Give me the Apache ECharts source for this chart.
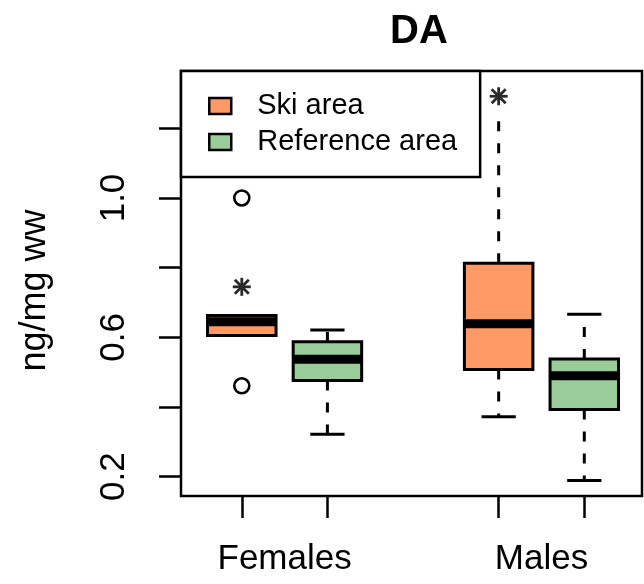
<!DOCTYPE html>
<html>
<head>
<meta charset="utf-8">
<title>DA</title>
<script src="https://cdn.jsdelivr.net/npm/echarts@6/dist/echarts.min.js"></script>
<style>
  html, body { margin: 0; padding: 0; background: #fff; }
  #chart { width: 644px; height: 584px; }
</style>
</head>
<body>
<div id="chart"></div>
<script>
// groups on the x axis
const groups = ["Females", "Males"];
// [lower whisker, Q1, median, Q3, upper whisker] for each group
const skiArea = [
  [0.605, 0.605, 0.645, 0.663, 0.663],
  [0.372, 0.508, 0.639, 0.813, 1.24]
];
const refArea = [
  [0.322, 0.476, 0.537, 0.587, 0.621],
  [0.189, 0.393, 0.49, 0.538, 0.666]
];
// [group index, value]
const skiOutliers = [[0, 1.0], [0, 0.461]];
const skiExtremes = [[0, 0.745], [1, 1.292]];
const yTicks = [0.2, 0.4, 0.6, 0.8, 1.0, 1.2];
const yLabels = [0.2, 0.6, 1.0];

const FONT = "Liberation Sans";
const skiColor = "#FF9966";
const refColor = "#99CC99";

// ski box sits at 1 (+3 per group), reference box right after it
const xOf = (g, k) => g * 3 + 1 + k;

let renderBox = (params, api) => {
  const x = api.value(0);
  const lo = api.value(1), q1 = api.value(2), med = api.value(3), q3 = api.value(4), hi = api.value(5);
  const half = 0.4, cap = 0.2;
  const p = (dx, v) => api.coord([x + dx, v]);
  const line = (a, b, style) => ({
    type: "line",
    shape: { x1: a[0], y1: a[1], x2: b[0], y2: b[1] },
    style: style
  });
  const dashed = { stroke: "#000", lineWidth: 3, lineDash: [10, 12] };
  const solid = { stroke: "#000", lineWidth: 3 };
  const tl = p(-half, q3);
  const br = p(half, q1);
  return {
    type: "group",
    children: [
      line(p(0, q1), p(0, lo), dashed),
      line(p(0, q3), p(0, hi), dashed),
      line(p(-cap, lo), p(cap, lo), solid),
      line(p(-cap, hi), p(cap, hi), solid),
      {
        type: "rect",
        shape: { x: tl[0], y: tl[1], width: br[0] - tl[0], height: br[1] - tl[1] },
        style: { fill: api.visual("color"), stroke: "#000", lineWidth: 3 }
      },
      line(p(-half, med), p(half, med), { stroke: "#000", lineWidth: 9 })
    ]
  };
};

// pch 8 style asterisk on a white patch
let renderStar = (params, api) => {
  const c = api.coord([api.value(0), api.value(1)]);
  const r = 9, d = 7;
  const st = { stroke: "#2a2a2a", lineWidth: 2.8 };
  const seg = (dx, dy) => ({
    type: "line",
    shape: { x1: c[0] - dx, y1: c[1] - dy, x2: c[0] + dx, y2: c[1] + dy },
    style: st
  });
  return {
    type: "group",
    children: [
      { type: "rect", shape: { x: c[0] - 21, y: c[1] - 22, width: 42, height: 44 }, style: { fill: "#fff" } },
      seg(r, 0), seg(0, r), seg(d, d), seg(d, -d)
    ]
  };
};

let chart = echarts.init(document.getElementById("chart"));
let option = {
  animation: false,
  title: {
    text: "DA",
    left: 414,
    top: 7,
    textAlign: "center",
    textStyle: { fontFamily: FONT, fontWeight: "bold", fontSize: 40, color: "#000" }
  },
  legend: {
    z: 10,
    orient: "vertical",
    left: 181,
    top: 71,
    data: ["Ski area", "Reference area"],
    backgroundColor: "#fff",
    borderColor: "#000",
    borderWidth: 2.5,
    padding: [20, 23, 20, 27],
    itemGap: 6,
    itemWidth: 22,
    itemHeight: 16,
    icon: "rect",
    itemStyle: { borderColor: "#000", borderWidth: 2.5 },
    textStyle: { fontFamily: FONT, fontSize: 29, color: "#000", lineHeight: 30, padding: [0, 0, 0, 21] }
  },
  grid: {
    left: 181,
    right: 2,
    top: 71,
    bottom: 88,
    show: true,
    borderColor: "#000",
    borderWidth: 2.5
  },
  xAxis: {
    type: "value",
    min: 0.29,
    max: 5.674,
    axisLine: { show: false },
    splitLine: { show: false },
    axisTick: {
      show: true,
      customValues: [xOf(0, 0), xOf(0, 1), xOf(1, 0), xOf(1, 1)],
      length: 22,
      lineStyle: { color: "#000", width: 2.5 }
    },
    axisLabel: {
      customValues: [xOf(0, 0.5), xOf(1, 0.5)],
      formatter: (v) => groups[Math.round((v - 1.5) / 3)],
      margin: 46,
      fontFamily: FONT,
      fontSize: 35,
      color: "#000"
    }
  },
  yAxis: {
    type: "value",
    min: 0.1446,
    max: 1.3645,
    name: "ng/mg ww",
    nameLocation: "middle",
    nameGap: 128,
    nameTextStyle: { fontFamily: FONT, fontSize: 36, color: "#000", padding: [0, 14, 0, 0] },
    axisLine: { show: false },
    splitLine: { show: false },
    axisTick: {
      show: true,
      customValues: yTicks,
      length: 22,
      lineStyle: { color: "#000", width: 2.5 }
    },
    axisLabel: {
      customValues: yLabels,
      formatter: (v) => v.toFixed(1),
      rotate: 90,
      margin: 49,
      fontFamily: FONT,
      fontSize: 35,
      color: "#000"
    }
  },
  series: [
    {
      name: "Ski area",
      type: "custom",
      renderItem: renderBox,
      itemStyle: { color: skiColor },
      encode: { x: 0, y: [1, 2, 3, 4, 5] },
      data: skiArea.map((s, g) => [xOf(g, 0)].concat(s))
    },
    {
      name: "Reference area",
      type: "custom",
      renderItem: renderBox,
      itemStyle: { color: refColor },
      encode: { x: 0, y: [1, 2, 3, 4, 5] },
      data: refArea.map((s, g) => [xOf(g, 1)].concat(s))
    },
    {
      name: "outliers",
      type: "scatter",
      symbol: "circle",
      symbolSize: 15,
      itemStyle: { color: "#fff", borderColor: "#000", borderWidth: 2.6, opacity: 1 },
      data: skiOutliers.map(([g, v]) => [xOf(g, 0), v]),
      z: 5
    },
    {
      name: "extremes",
      type: "custom",
      renderItem: renderStar,
      encode: { x: 0, y: 1 },
      data: skiExtremes.map(([g, v]) => [xOf(g, 0), v]),
      z: 6
    }
  ]
};
chart.setOption(option, true);
</script>
</body>
</html>
